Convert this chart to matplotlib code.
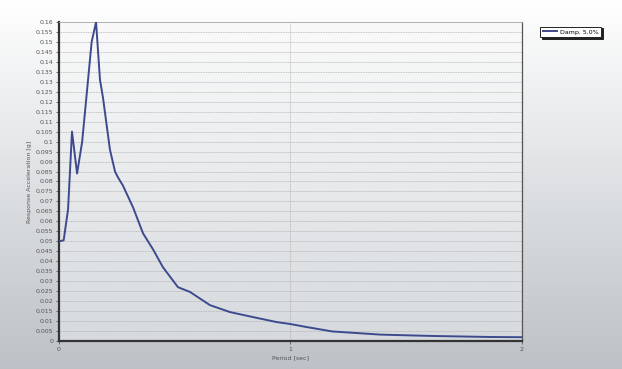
import matplotlib
matplotlib.use('Agg')
import matplotlib.pyplot as plt
import numpy as np

# Response spectrum, 5% damping
period = [0.0, 0.02, 0.039, 0.056, 0.078, 0.10, 0.141, 0.16, 0.177, 0.19,
          0.22, 0.242, 0.255, 0.276, 0.32, 0.363, 0.406, 0.449, 0.514,
          0.566, 0.652, 0.739, 0.838, 0.94, 1.0, 1.07, 1.18, 1.39, 1.62,
          1.87, 2.0]
accel = [0.050, 0.0505, 0.066, 0.105, 0.084, 0.100, 0.150, 0.160, 0.131, 0.122,
         0.096, 0.085, 0.082, 0.078, 0.067, 0.054, 0.046, 0.037, 0.027,
         0.0246, 0.018, 0.0145, 0.012, 0.0095, 0.0085, 0.007, 0.0048, 0.0032,
         0.0025, 0.002, 0.0019]
y_ticks = np.round(np.arange(0, 0.1601, 0.005), 3)
x_ticks = [0, 1, 2]

fig = plt.figure(figsize=(6.22, 3.69), dpi=100)

# vertical gradient behind everything
bg = fig.add_axes([0, 0, 1, 1], zorder=0)
grad = np.linspace(1.0, 0.0, 256).reshape(-1, 1)
top_c = np.array([1.0, 1.0, 1.0])
bot_c = np.array([0.74, 0.76, 0.78])
bg_img = bot_c + (top_c - bot_c) * grad[..., None]
bg.imshow(bg_img, aspect='auto', extent=[0, 1, 0, 1])
bg.axis('off')

ax = fig.add_axes([0.0949, 0.0759, 0.744, 0.8645], zorder=1)
ax.set_facecolor('none')
top_p = np.array([0.98, 0.98, 0.98])
bot_p = np.array([0.84, 0.855, 0.87])
plot_img = bot_p + (top_p - bot_p) * grad[..., None]
ax.imshow(plot_img, aspect='auto', extent=[0, 2, 0, 0.16], zorder=0)

ax.plot(period, accel, color='#3d4a8e', lw=1.4, label='Damp. 5.0%', zorder=3)

ax.set_xlim(0, 2)
ax.set_ylim(0, 0.16)
ax.set_xticks(x_ticks)
ax.set_xticklabels([str(v) for v in x_ticks])
ax.set_yticks(y_ticks)
ax.set_yticklabels([('%g' % v) for v in y_ticks])
ax.tick_params(labelsize=4.5, colors='#555555', length=2, width=0.6, pad=2)
ax.grid(True, axis='y', color='#a5a5a5', ls=(0, (1.2, 1.2)), lw=0.5, zorder=1)
ax.axvline(1, color='#a5a5a5', ls=(0, (1.2, 1.2)), lw=0.5, zorder=1)

for side in ['left', 'bottom']:
    ax.spines[side].set_color('#333333')
    ax.spines[side].set_linewidth(1.6)
ax.spines['right'].set_color('#555555')
ax.spines['right'].set_linewidth(0.9)
ax.spines['top'].set_color('#aaaaaa')
ax.spines['top'].set_linewidth(0.6)

ax.set_xlabel('Period [sec]', fontsize=4.5, color='#555555', labelpad=3)
ax.set_ylabel('Response Acceleration [g]', fontsize=4.5, color='#555555', labelpad=3)

leg = ax.legend(loc='upper left', bbox_to_anchor=(1.04, 0.985), fontsize=4.5,
                frameon=True, fancybox=False,
                shadow={'ox': 1.2, 'oy': -1.2, 'color': '#222222', 'alpha': 1.0},
                borderpad=0.4, handlelength=2.2, handletextpad=0.6, borderaxespad=0)
leg.get_frame().set_edgecolor('#222222')
leg.get_frame().set_linewidth(0.7)
leg.get_frame().set_facecolor('white')

fig.savefig('out.png', dpi=100)
